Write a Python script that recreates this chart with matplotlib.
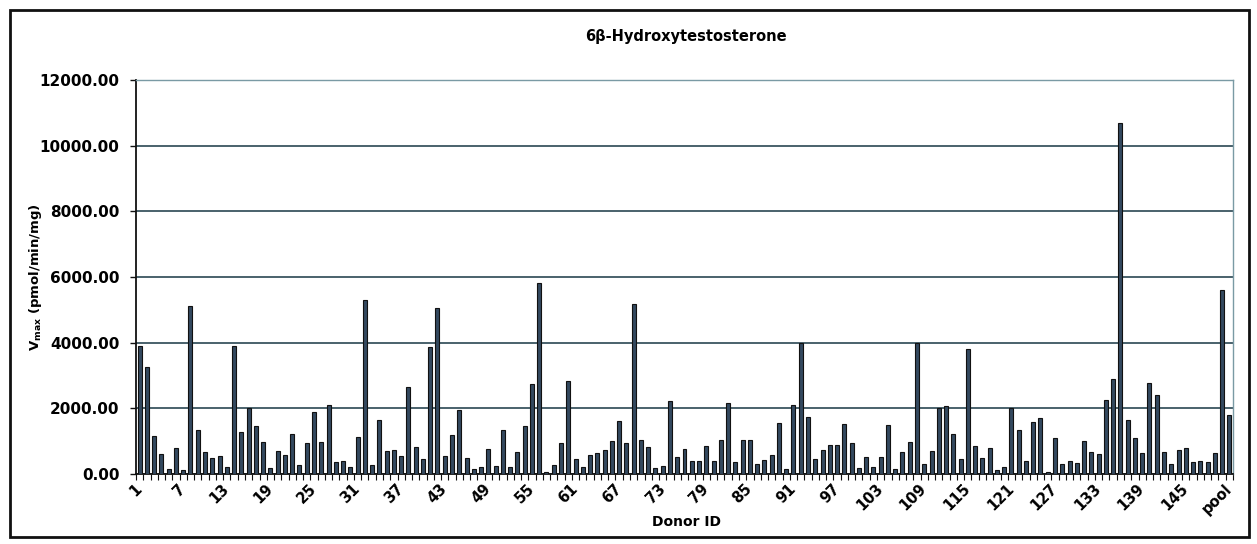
import matplotlib
matplotlib.use('Agg')
import matplotlib.pyplot as plt
from matplotlib.patches import Rectangle
import numpy as np

# donor IDs 1..150 plus the pooled sample
donors = [str(i) for i in range(1, 151)] + ['pool']
vmax = [3900, 3270, 1160, 600, 160, 800, 130, 5120, 1340, 656,
        495, 545, 212, 3890, 1283, 2000, 1450, 960, 172, 690,
        580, 1230, 283, 930, 1900, 980, 2100, 354, 394, 212,
        1140, 5300, 273, 1640, 700, 730, 535, 2650, 830, 465,
        3870, 5070, 535, 1200, 1960, 495, 162, 202, 770, 232,
        1330, 202, 656, 1450, 2750, 5820, 70, 283, 949, 2840,
        454, 202, 586, 646, 727, 1000, 1620, 949, 5180, 1030,
        828, 182, 242, 2220, 515, 747, 404, 404, 848, 404,
        1050, 2160, 374, 1050, 1050, 293, 434, 576, 1560, 151,
        2100, 3990, 1750, 444, 727, 879, 879, 1520, 949, 182,
        525, 202, 525, 1480, 151, 677, 980, 3980, 303, 707,
        2020, 2060, 1210, 454, 3820, 858, 485, 798, 121, 202,
        2020, 1340, 394, 1570, 1700, 50, 1090, 293, 404, 323,
        1000, 656, 596, 2260, 2900, 10700, 1630, 1110, 626, 2780,
        2400, 677, 313, 717, 778, 374, 404, 364, 646, 5600,
        1790]

title = '6\u03b2-Hydroxytestosterone'
yticks = [0, 2000, 4000, 6000, 8000, 10000, 12000]

fig = plt.figure(figsize=(12.57, 5.44), dpi=100)
ax = fig.add_axes([0.1082, 0.1287, 0.8727, 0.7243])

x = np.arange(len(donors))
ax.bar(x, vmax, width=0.55, color='#33495f', edgecolor='#111111', linewidth=0.8, zorder=3)

ax.set_xlim(-0.5, len(donors) - 0.5)
ax.set_ylim(0, 12000)

# y axis
ax.set_yticks(yticks)
ax.set_yticklabels(['%.2f' % v for v in yticks], fontsize=11, fontweight='bold')
ax.tick_params(axis='y', length=4, width=1, pad=8, color='#111111')
ax.yaxis.grid(True, color='#3a5560', linewidth=1.3, zorder=1)

# x axis: label every 6th donor, small marks between categories
ax.set_xticks(x[::6])
ax.set_xticklabels([donors[i] for i in x[::6]], rotation=45, ha='right', va='center',
                   rotation_mode='anchor', fontsize=10.5, fontweight='bold')
ax.tick_params(axis='x', length=0, pad=9)
ax.set_xticks(np.arange(-0.5, len(donors), 1), minor=True)
ax.tick_params(axis='x', which='minor', length=4, width=0.8, color='#111111')

for s in ['left', 'bottom']:
    ax.spines[s].set_color('#111111')
    ax.spines[s].set_linewidth(1.3)
for s in ['top', 'right']:
    ax.spines[s].set_color('#7a9aa4')
    ax.spines[s].set_linewidth(1.0)

fig.text(0.546, 0.932, title, ha='center', va='center', fontsize=10.5, fontweight='bold')
fig.text(0.546, 0.04, 'Donor ID', ha='center', va='center', fontsize=10, fontweight='bold')
fig.text(0.028, 0.49, r'V$_{\mathbf{max}}$ (pmol/min/mg)', rotation=90, ha='center', va='center',
         fontsize=9.5, fontweight='bold')

# outer frame around the whole chart
fig.patches.append(Rectangle((0.008, 0.012), 0.986, 0.97, transform=fig.transFigure,
                             fill=False, edgecolor='#111111', linewidth=2))

plt.savefig('out.png', dpi=100)
